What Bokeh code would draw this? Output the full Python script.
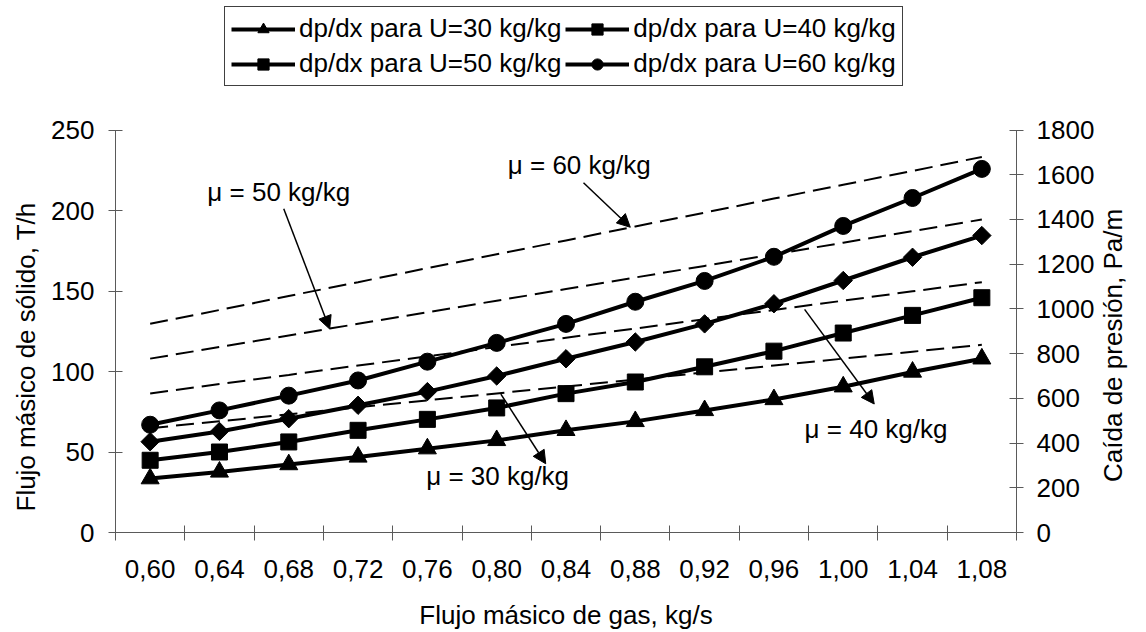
import math

from bokeh.plotting import figure
from bokeh.models import (Range1d, LinearAxis, FixedTicker, CustomJSTickFormatter,
                          Legend, LegendItem, Label, Arrow, NormalHead, Title)
from bokeh.embed import file_html
from bokeh.resources import INLINE

# Gas mass flow (kg/s) on the x axis
gas_flow = [0.60, 0.64, 0.68, 0.72, 0.76, 0.80, 0.84, 0.88, 0.92, 0.96, 1.00, 1.04, 1.08]

# Pressure drop dp/dx (Pa/m) for each loading ratio U
dp_u30 = [241, 271, 304, 338, 375, 412, 457, 497, 546, 595, 652, 718, 777]
dp_u40 = [323, 360, 405, 457, 506, 557, 621, 673, 741, 811, 892, 971, 1050]
dp_u50 = [406, 452, 509, 569, 630, 700, 777, 852, 933, 1023, 1127, 1231, 1328]
dp_u60 = [482, 546, 612, 680, 764, 848, 933, 1032, 1125, 1233, 1371, 1496, 1626]

# Solid mass flow (T/h) for each loading ratio mu
solid_mu30 = [64.8, 69.1, 73.4, 77.8, 82.1, 86.4, 90.7, 95.0, 99.4, 103.7, 108.0, 112.3, 116.6]
solid_mu40 = [86.4, 92.2, 97.9, 103.7, 109.4, 115.2, 121.0, 126.7, 132.5, 138.2, 144.0, 149.8, 155.5]
solid_mu50 = [108.0, 115.2, 122.4, 129.6, 136.8, 144.0, 151.2, 158.4, 165.6, 172.8, 180.0, 187.2, 194.4]
solid_mu60 = [129.6, 138.2, 146.9, 155.5, 164.2, 172.8, 181.4, 190.1, 198.7, 207.4, 216.0, 224.6, 233.3]

left_ticks = [0, 50, 100, 150, 200, 250]
right_ticks = [0, 200, 400, 600, 800, 1000, 1200, 1400, 1600, 1800]

legend_labels = ["dp/dx para U=30 kg/kg", "dp/dx para U=40 kg/kg",
                 "dp/dx para U=50 kg/kg", "dp/dx para U=60 kg/kg"]

FONT = "Liberation Sans"
FS = "26px"
GREY = "#5a5a5a"

W, H = 1146, 632
BORDER_L, BORDER_R, BORDER_B = 113, 128, 98
AXIS_PX = 404                      # height of the drawn 0..max axis span
FRAME_PX = H - BORDER_B            # frame reaches the top edge so the legend fits inside it
scale_up = FRAME_PX / AXIS_PX

left_max, right_max = left_ticks[-1], right_ticks[-1]

p = figure(width=W, height=H,
           x_range=Range1d(0.58, 1.10), y_range=Range1d(0, left_max * scale_up),
           output_backend="svg", toolbar_location=None,
           min_border_left=BORDER_L, min_border_right=BORDER_R,
           min_border_top=0, min_border_bottom=BORDER_B)
p.extra_y_ranges = {"dp": Range1d(0, right_max * scale_up)}
p.xgrid.visible = False
p.ygrid.visible = False
p.outline_line_color = None
p.background_fill_color = "white"
p.border_fill_color = "white"

# bottom axis: labels at the category centres, tick marks between them
half_step = (gas_flow[1] - gas_flow[0]) / 2
bounds = [g - half_step for g in gas_flow] + [gas_flow[-1] + half_step]
xa = p.xaxis[0]
xa.ticker = FixedTicker(ticks=gas_flow, minor_ticks=bounds)
xa.formatter = CustomJSTickFormatter(code="return tick.toFixed(2).replace('.', ',')")
xa.major_tick_line_color = None
xa.minor_tick_in = 7
xa.minor_tick_out = 8
xa.minor_tick_line_color = GREY
xa.axis_line_color = GREY
xa.major_label_standoff = 19
xa.axis_label = "Flujo másico de gas, kg/s"
xa.axis_label_standoff = 19

ya = p.yaxis[0]
ya.bounds = (0, left_max)
ya.ticker = FixedTicker(ticks=left_ticks)
ya.major_tick_in = 7
ya.major_tick_out = 7
ya.major_tick_line_color = GREY
ya.minor_tick_line_color = None
ya.axis_line_color = GREY
ya.major_label_standoff = 14

ra = LinearAxis(y_range_name="dp", ticker=FixedTicker(ticks=right_ticks),
                bounds=(0, right_max))
ra.major_tick_in = 7
ra.major_tick_out = 7
ra.major_tick_line_color = GREY
ra.minor_tick_line_color = None
ra.axis_line_color = GREY
ra.major_label_standoff = 13
# right title reads bottom-to-top, starting from the lower end of the axis
ra.axis_label = "\u00a0" * 7 + "Caída de presión, Pa/m"
ra.axis_label_standoff = 16
ra.axis_label_orientation = math.pi / 2
if "axis_label_align" in ra.properties():
    ra.axis_label_align = "start"
p.add_layout(ra, "right")

for ax in (xa, ya, ra):
    ax.major_label_text_font = FONT
    ax.major_label_text_font_size = FS
    ax.major_label_text_color = "black"
    ax.axis_label_text_font = FONT
    ax.axis_label_text_font_size = FS
    ax.axis_label_text_font_style = "normal"
    ax.axis_label_text_color = "black"

# left title, anchored near the bottom of the left axis
p.add_layout(Title(text="Flujo másico de sólido, T/h", align="left", offset=21,
                   text_font=FONT, text_font_size=FS, text_font_style="normal",
                   text_color="black", standoff=16), "left")

# constant loading-ratio lines (solid flow vs gas flow)
for ys in (solid_mu30, solid_mu40, solid_mu50, solid_mu60):
    p.line(gas_flow, ys, line_color="black", line_width=2, line_dash="18 8")

# pressure-drop curves
series = [
    (dp_u30, "triangle", 18, 0.0),
    (dp_u40, "square", 16, 0.0),
    (dp_u50, "square", 13, 0.785398),
    (dp_u60, "circle", 17, 0.0),
]
items = []
for (vals, marker, size, ang), lab in zip(series, legend_labels):
    ln = p.line(gas_flow, vals, y_range_name="dp", line_color="black", line_width=4)
    mk = p.scatter(gas_flow, vals, y_range_name="dp", marker=marker, size=size,
                   angle=ang, fill_color="black", line_color="black")
    items.append(LegendItem(label=lab, renderers=[ln, mk]))

legend = Legend(items=items, location=(109, FRAME_PX - 88), orientation="horizontal", ncols=2,
                label_text_font=FONT, label_text_font_size=FS, label_text_color="black",
                glyph_width=64, glyph_height=28, label_height=28, label_standoff=4,
                spacing=4, padding=6, margin=0,
                border_line_color="#404040", border_line_width=1, border_line_alpha=1.0,
                background_fill_color="white", background_fill_alpha=1.0)
p.add_layout(legend, "center")

# mu annotations with arrows
notes = [
    ("μ = 50 kg/kg", 0.633, 211.6, (0.6771, 201.1), (0.7036, 126.4)),
    ("μ = 60 kg/kg", 0.8064, 228.3, (0.8501, 217.2), (0.8771, 189.6)),
    ("μ = 40 kg/kg", 0.9777, 64.4, (0.9777, 138.6), (1.0179, 79.8)),
    ("μ = 30 kg/kg", 0.7593, 35.3, (0.8024, 86.0), (0.8283, 42.7)),
]
for text, tx, ty, (x0, y0), (x1, y1) in notes:
    p.add_layout(Label(x=tx, y=ty, text=text, text_font=FONT, text_font_size=FS,
                       text_baseline="middle", text_align="left", text_color="black"))
    p.add_layout(Arrow(x_start=x0, y_start=y0, x_end=x1, y_end=y1,
                       line_color="black", line_width=1.5,
                       end=NormalHead(size=13, fill_color="black",
                                      line_color="black", line_width=1)))

open("out.html", "w").write(file_html(p, INLINE))
